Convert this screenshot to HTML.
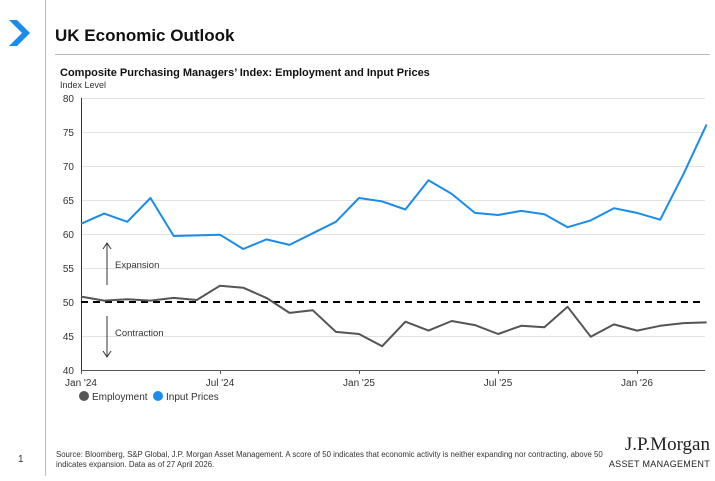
<!DOCTYPE html>
<html><head><meta charset="utf-8"><style>
body{margin:0;background:#fff;font-family:"Liberation Sans",Arial,sans-serif;}
</style></head><body>
<svg width="715" height="476" xmlns="http://www.w3.org/2000/svg" font-family="Liberation Sans, Arial, sans-serif">
<rect width="715" height="476" fill="#fff"/>
<line x1="45.5" y1="0" x2="45.5" y2="476" stroke="#bbb" stroke-width="1"/>
<polygon points="9,20 17,20 30,33 17,46 9,46 22,33" fill="#1a8ceb"/>
<text x="55" y="41" font-size="17" font-weight="bold" fill="#111">UK Economic Outlook</text>
<line x1="55" y1="54.5" x2="710" y2="54.5" stroke="#bbb"/>
<text x="60" y="76" font-size="11" font-weight="bold" fill="#111">Composite Purchasing Managers’ Index: Employment and Input Prices</text>
<text x="60" y="88" font-size="9" fill="#333">Index Level</text>
<g stroke="#e2e2e2" stroke-width="1">
<line x1="81" y1="98.5" x2="705" y2="98.5"/><line x1="81" y1="132.5" x2="705" y2="132.5"/>
<line x1="81" y1="166.5" x2="705" y2="166.5"/><line x1="81" y1="200.5" x2="705" y2="200.5"/>
<line x1="81" y1="234.5" x2="705" y2="234.5"/><line x1="81" y1="268.5" x2="705" y2="268.5"/>
<line x1="81" y1="336.5" x2="705" y2="336.5"/>
</g>
<g font-size="10" fill="#333" text-anchor="end">
<text x="74" y="102">80</text><text x="74" y="136">75</text><text x="74" y="170">70</text>
<text x="74" y="204">65</text><text x="74" y="238">60</text><text x="74" y="272">55</text>
<text x="74" y="306">50</text><text x="74" y="340">45</text><text x="74" y="374">40</text>
</g>
<line x1="81.5" y1="98" x2="81.5" y2="370" stroke="#333"/>
<line x1="81" y1="370.5" x2="705" y2="370.5" stroke="#555"/>
<g stroke="#555"><line x1="81.5" y1="370" x2="81.5" y2="374"/><line x1="220.5" y1="370" x2="220.5" y2="374"/><line x1="359.5" y1="370" x2="359.5" y2="374"/><line x1="498.5" y1="370" x2="498.5" y2="374"/><line x1="637.5" y1="370" x2="637.5" y2="374"/></g>
<g font-size="10" fill="#333" text-anchor="middle">
<text x="81" y="386">Jan '24</text><text x="220" y="386">Jul '24</text><text x="359" y="386">Jan '25</text><text x="498" y="386">Jul '25</text><text x="637" y="386">Jan '26</text>
</g>
<line x1="81" y1="302" x2="705" y2="302" stroke="#000" stroke-width="2" stroke-dasharray="7,5"/>
<g stroke="#333" stroke-width="1" fill="none">
<line x1="107" y1="285" x2="107" y2="244"/><polyline points="103,249 107,243 111,249"/>
<line x1="107" y1="316" x2="107" y2="356"/><polyline points="103,351 107,357 111,351"/>
</g>
<text x="115" y="268" font-size="9.5" fill="#333">Expansion</text>
<text x="115" y="336" font-size="9.5" fill="#333">Contraction</text>
<polyline fill="none" stroke="#1a8ceb" stroke-width="2" stroke-linejoin="round" points="81.0,223.8 104.2,213.6 127.3,221.8 150.5,198.0 173.7,236.0 196.8,235.4 220.0,234.7 243.2,249.0 266.4,239.4 289.5,244.9 312.7,233.3 335.9,221.8 359.0,198.0 382.2,201.4 405.4,209.5 428.5,180.3 451.7,193.9 474.9,212.9 498.1,215.0 521.2,210.9 544.4,214.3 567.6,227.2 590.7,220.4 613.9,208.2 637.1,212.9 660.2,219.7 683.4,174.2 706.6,124.5"/>
<polyline fill="none" stroke="#555" stroke-width="2" stroke-linejoin="round" points="81.0,296.6 104.2,300.6 127.3,299.3 150.5,300.6 173.7,297.9 196.8,300.0 220.0,285.7 243.2,287.7 266.4,297.9 289.5,312.9 312.7,310.2 335.9,331.9 359.0,334.0 382.2,346.2 405.4,321.7 428.5,330.6 451.7,321.0 474.9,325.1 498.1,334.0 521.2,325.8 544.4,327.2 567.6,306.8 590.7,336.7 613.9,324.4 637.1,330.6 660.2,325.8 683.4,323.1 706.6,322.4"/>
<circle cx="84" cy="396" r="5" fill="#555"/><text x="92" y="400" font-size="10" fill="#333">Employment</text>
<circle cx="158" cy="396" r="5" fill="#1a8ceb"/><text x="166" y="400" font-size="10" fill="#333">Input Prices</text>
<text x="18" y="462" font-size="10" fill="#333">1</text>
<text x="56" y="457" font-size="7.8" fill="#333">Source: Bloomberg, S&amp;P Global, J.P. Morgan Asset Management. A score of 50 indicates that economic activity is neither expanding nor contracting, above 50</text>
<text x="56" y="467" font-size="7.8" fill="#333">indicates expansion. Data as of 27 April 2026.</text>
<text x="710" y="450" font-size="19" font-family="Liberation Serif, serif" fill="#222" text-anchor="end">J.P.Morgan</text>
<text x="710" y="467" font-size="9" fill="#222" text-anchor="end" letter-spacing="0.3">ASSET MANAGEMENT</text>
</svg>
</body></html>
